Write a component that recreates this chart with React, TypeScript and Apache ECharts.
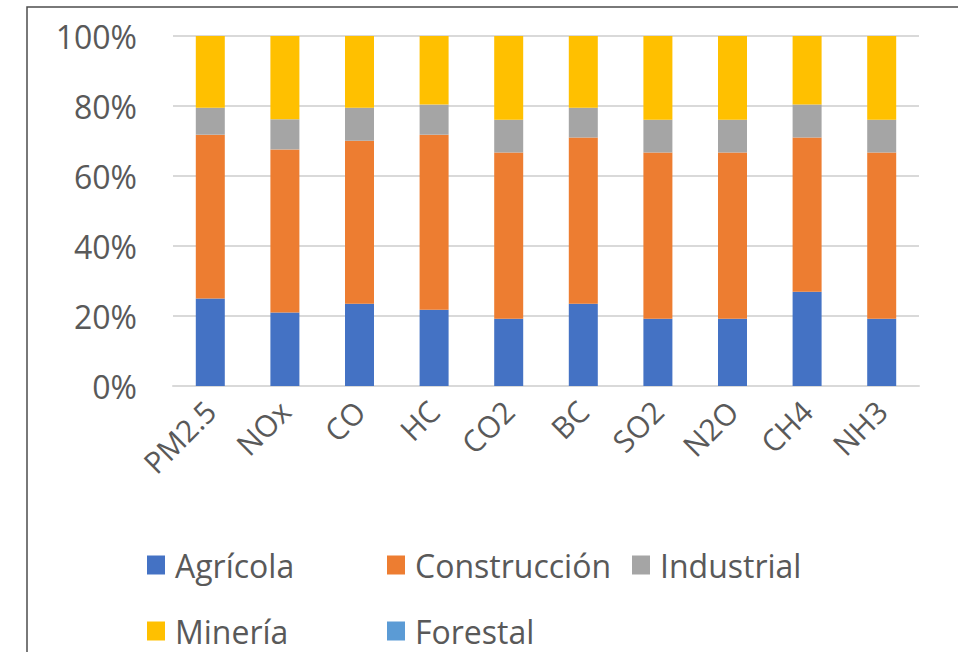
import React, { useEffect, useRef } from "react";
import * as echarts from "echarts";

const categories = ["PM2.5", "NOx", "CO", "HC", "CO2", "BC", "SO2", "N2O", "CH4", "NH3"];
const agricola = [25, 21, 23.5, 21.8, 19.2, 23.5, 19.2, 19.2, 26.9, 19.2];
const construccion = [46.8, 46.6, 46.6, 50, 47.5, 47.5, 47.5, 47.5, 44.1, 47.5];
const industrial = [7.7, 8.6, 9.4, 8.6, 9.4, 8.5, 9.4, 9.4, 9.4, 9.4];
const mineria = [20.5, 23.8, 20.5, 19.6, 23.9, 20.5, 23.9, 23.9, 19.6, 23.9];
const forestal = [0, 0, 0, 0, 0, 0, 0, 0, 0, 0];

const seriesNames = ["Agrícola", "Construcción", "Industrial", "Minería", "Forestal"];
const seriesData = [agricola, construccion, industrial, mineria, forestal];
const colors = ["#4472C4", "#ED7D31", "#A5A5A5", "#FFC000", "#5B9BD5"];

const FONT = "'Open Sans', sans-serif";
const TEXT = "#595959";

export default function App() {
  const ref = useRef<HTMLDivElement>(null);
  useEffect(() => {
    if (!ref.current) return;
    const chart = echarts.init(ref.current, null, { renderer: "svg" });
    const legendPos = [
      { left: 147, top: 549 },
      { left: 387, top: 549 },
      { left: 632, top: 549 },
      { left: 147, top: 615 },
      { left: 387, top: 615 },
    ];
    chart.setOption({
      animation: false,
      textStyle: { fontFamily: FONT },
      color: colors,
      graphic: [
        {
          type: "rect",
          shape: { x: 27, y: 7, width: 1000, height: 700 },
          style: { fill: "none", stroke: "#4d4d4d", lineWidth: 1.5 },
          silent: true,
        },
      ],
      grid: { left: 173, right: 39, top: 36, bottom: 266, containLabel: false },
      xAxis: {
        type: "category",
        data: categories,
        axisLine: { show: true, lineStyle: { color: "#D9D9D9", width: 2 } },
        axisTick: { show: false },
        axisLabel: {
          rotate: 45,
          margin: 20,
          color: TEXT,
          fontSize: 30,
          fontFamily: FONT,
          interval: 0,
        },
      },
      yAxis: {
        type: "value",
        min: 0,
        max: 100,
        interval: 20,
        axisLine: { show: false },
        axisTick: { show: false },
        splitLine: { lineStyle: { color: "#D9D9D9", width: 2 } },
        axisLabel: {
          formatter: "{value}%",
          color: TEXT,
          fontSize: 32,
          fontFamily: FONT,
          margin: 36,
        },
      },
      legend: seriesNames.map((n, i) => ({
        data: [n],
        left: legendPos[i].left,
        top: legendPos[i].top,
        padding: 0,
        itemWidth: 18,
        itemHeight: 19,
        itemGap: 0,
        icon: "rect",
        selectedMode: false,
        textStyle: { color: TEXT, fontSize: 32, fontFamily: FONT, lineHeight: 26, padding: [0, 0, 0, 5] },
      })),
      series: seriesNames.map((n, i) => ({
        name: n,
        type: "bar",
        stack: "total",
        barWidth: 29,
        data: seriesData[i],
        itemStyle: { color: colors[i] },
      })),
    });
    return () => chart.dispose();
  }, []);
  return (
    <div
      ref={ref}
      style={{ position: "fixed", left: 0, top: 0, width: 958, height: 652, background: "#fff" }}
    />
  );
}
